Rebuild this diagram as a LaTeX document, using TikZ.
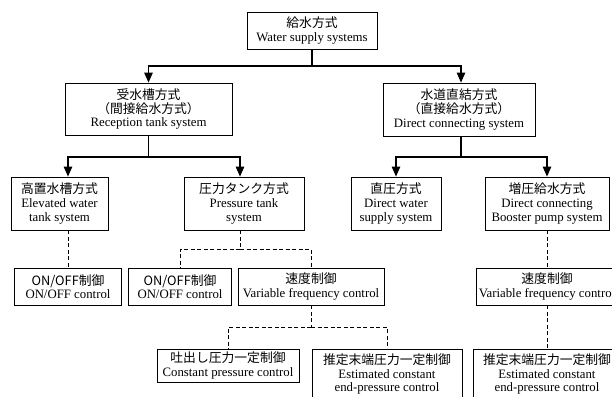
\documentclass[tikz,border=0pt]{standalone}
\usepackage{fontspec}
\setmainfont{Liberation Serif}
\newfontfamily\jp{Noto Sans CJK JP}
\usetikzlibrary{arrows.meta}
\begin{document}
\begin{tikzpicture}[x=1pt,y=-1pt,
  box/.style={draw, line width=0.8pt, align=center, inner sep=0pt,
    font=\fontsize{12.8}{13.6}\selectfont},
  conn/.style={line width=1.1pt},
  arr/.style={conn, -{Triangle[length=10pt,width=8.5pt]}},
  dsh/.style={line width=0.8pt, dash pattern=on 4pt off 2.5pt}]
\useasboundingbox (0,0) rectangle (612,396);
\clip (0,0) rectangle (612,396);
% level 1
\node[box, minimum width=130pt, minimum height=37pt] (top) at (312,30.5)
  {{\jp 給水方式}\\Water supply systems};
% level 2
\node[box, minimum width=167pt, minimum height=52pt] (recv) at (148.5,109)
  {{\jp 受水槽方式}\\{\jp （間接給水方式）}\\Reception tank system};
\node[box, minimum width=152pt, minimum height=53pt] (direct) at (459,109.5)
  {{\jp 水道直結方式}\\{\jp （直接給水方式）}\\Direct connecting system};
% level 3
\node[box, minimum width=97pt, minimum height=53pt] (elev) at (59.5,203.5)
  {{\jp 高置水槽方式}\\Elevated water\\tank system};
\node[box, minimum width=120pt, minimum height=53pt] (press) at (244,203.5)
  {{\jp 圧力タンク方式}\\Pressure tank\\system};
\node[box, minimum width=90pt, minimum height=53pt] (chok) at (396,203.5)
  {{\jp 直圧方式}\\Direct water\\supply system};
\node[box, minimum width=124pt, minimum height=53pt] (boost) at (547,203.5)
  {{\jp 増圧給水方式}\\Direct connecting\\Booster pump system};
% level 4
\node[box, minimum width=107pt, minimum height=37pt] (onoff1) at (68,286.5)
  {{\jp ON/OFF制御}\\ON/OFF control};
\node[box, minimum width=103pt, minimum height=37pt] (onoff2) at (180,286.5)
  {{\jp ON/OFF制御}\\ON/OFF control};
\node[box, minimum width=146pt, minimum height=37pt] (speed1) at (311,286.5)
  {{\jp 速度制御}\\Variable frequency control};
\node[box, minimum width=142pt, minimum height=37pt] (speed2) at (547,286.5)
  {{\jp 速度制御}\\Variable frequency control};
% level 5
\node[box, minimum width=142pt, minimum height=33pt] (const) at (228,365.5)
  {{\jp 吐出し圧力一定制御}\\Constant pressure control};
\node[box, minimum width=150pt, minimum height=50pt] (est1) at (387,374)
  {{\jp 推定末端圧力一定制御}\\Estimated constant\\end-pressure control};
\node[box, minimum width=148pt, minimum height=50pt] (est2) at (547,374)
  {{\jp 推定末端圧力一定制御}\\Estimated constant\\end-pressure control};
% solid connectors
\coordinate (j1) at (312,66);
\draw[conn] (top.south) -- (j1);
\draw[arr] (j1) -| (recv.north);
\draw[arr] (j1) -| ([xshift=2pt]direct.north);
\coordinate (j2) at (148.5,157);
\draw[conn] (recv.south) -- (j2);
\draw[arr] (j2) -| ([xshift=8.5pt]elev.north);
\draw[arr] (j2) -| ([xshift=-4pt]press.north);
\coordinate (j3) at (461,157);
\draw[conn] ([xshift=2pt]direct.south) -- (j3);
\draw[arr] (j3) -| (chok.north);
\draw[arr] (j3) -| (boost.north);
% dashed connectors
\draw[dsh] ([xshift=8.5pt]elev.south) -- (onoff1.north);
\coordinate (j4) at (240,249);
\draw[dsh] ([xshift=-4pt]press.south) -- (j4);
\draw[dsh] (j4) -| (onoff2.north);
\draw[dsh] (j4) -| (speed1.north);
\coordinate (j5) at (311,327);
\draw[dsh] (speed1.south) -- (j5);
\draw[dsh] (j5) -| (const.north);
\draw[dsh] (j5) -| (est1.north);
\draw[dsh] (boost.south) -- (speed2.north);
\draw[dsh] (speed2.south) -- (est2.north);
\end{tikzpicture}
\end{document}
